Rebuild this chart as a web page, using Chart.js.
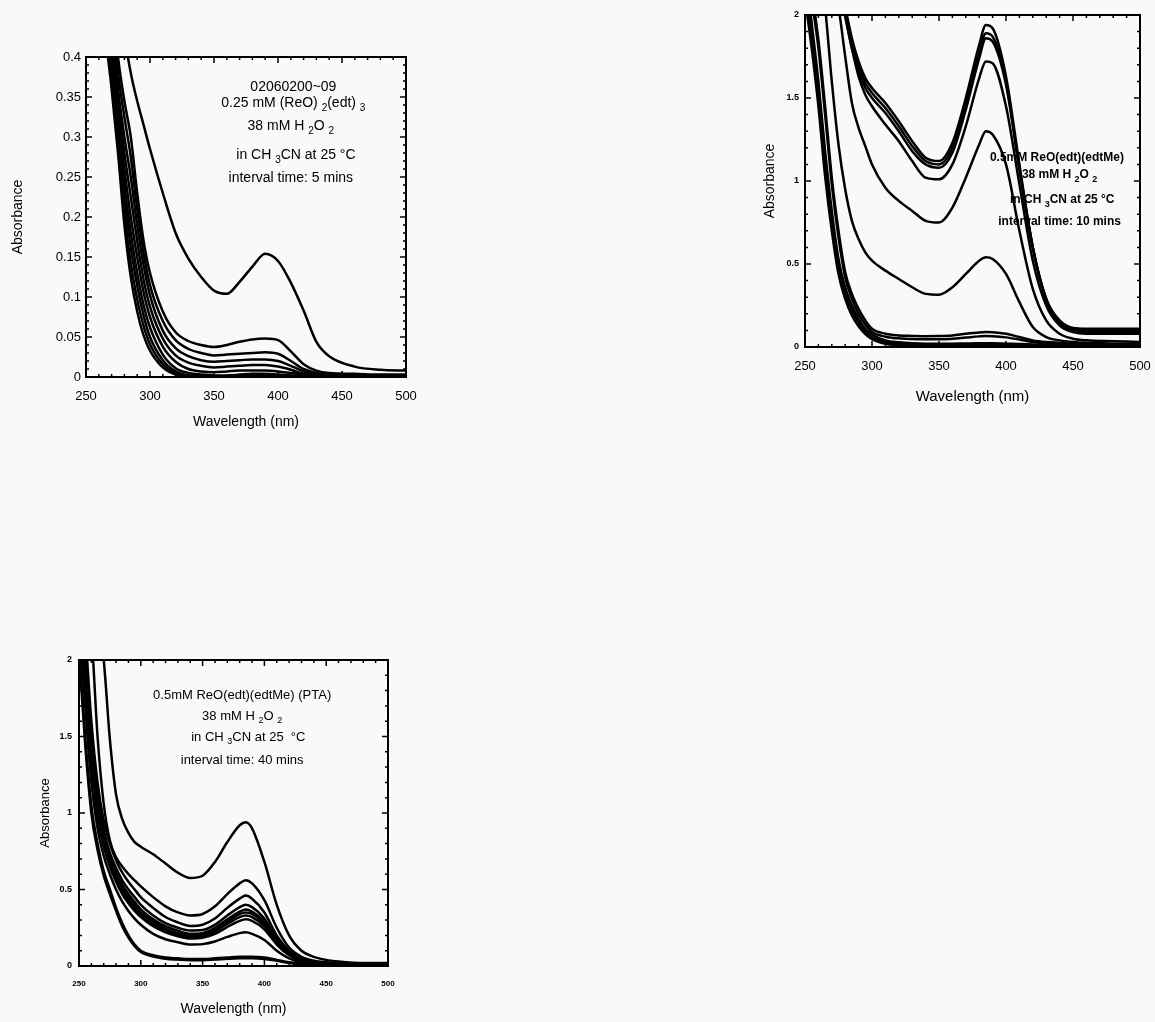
<!DOCTYPE html>
<html>
<head>
<meta charset="utf-8">
<script src="https://cdn.jsdelivr.net/npm/chart.js@4.4.1/dist/chart.umd.min.js"></script>
<style>
  body { margin: 0; background: #f9f9f9; overflow: hidden; }
  canvas { position: absolute; }
</style>
</head>
<body>
<canvas id="edt3" width="430" height="400" style="left:0;top:40px"></canvas>
<canvas id="edtMe" width="424" height="420" style="left:740px;top:0"></canvas>
<canvas id="pta" width="420" height="382" style="left:0;top:640px"></canvas>
<script>
// ---- panel 1: 0.25 mM (ReO)2(edt)3, 5 min scans ----
const wl1 = [255, 265, 270, 275, 280, 285, 290, 295, 300, 310, 320, 330, 340, 350, 360, 370, 380, 390, 400, 410, 420, 430, 440, 460, 480, 500];
const edt3Scan1 = [0.9, 0.7, 0.6, 0.52, 0.43, 0.38, 0.345, 0.315, 0.285, 0.23, 0.18, 0.148, 0.125, 0.108, 0.104, 0.119, 0.138, 0.154, 0.145, 0.118, 0.083, 0.044, 0.026, 0.013, 0.009, 0.008];
const edt3Scan2 = [1.2, 0.62, 0.48, 0.4, 0.345, 0.3, 0.23, 0.17, 0.13, 0.082, 0.056, 0.045, 0.04, 0.0375, 0.04, 0.044, 0.047, 0.048, 0.046, 0.032, 0.016, 0.008, 0.005, 0.004, 0.003, 0.003];
const edt3Scan3 = [1.2, 0.6, 0.46, 0.38, 0.325, 0.275, 0.21, 0.155, 0.115, 0.07, 0.046, 0.035, 0.03, 0.027, 0.028, 0.029, 0.03, 0.031, 0.029, 0.02, 0.01, 0.005, 0.003, 0.002, 0.002, 0.002];
const edt3Scan4 = [1.15, 0.58, 0.44, 0.36, 0.3, 0.25, 0.19, 0.14, 0.102, 0.058, 0.036, 0.026, 0.021, 0.019, 0.02, 0.021, 0.022, 0.022, 0.02, 0.014, 0.007, 0.003, 0.002, 0.001, 0.001, 0.001];
const edt3Scan5 = [1.1, 0.56, 0.43, 0.345, 0.28, 0.225, 0.17, 0.122, 0.088, 0.048, 0.027, 0.018, 0.014, 0.012, 0.013, 0.014, 0.015, 0.015, 0.013, 0.009, 0.004, 0.002, 0.001, 0.001, 0.001, 0.001];
const edt3Scan6 = [1.08, 0.54, 0.415, 0.33, 0.26, 0.2, 0.15, 0.106, 0.075, 0.038, 0.019, 0.01, 0.007, 0.006, 0.007, 0.008, 0.008, 0.008, 0.007, 0.005, 0.003, 0.002, 0.001, 0.001, 0.001, 0.001];
const edt3Scan7 = [1.05, 0.52, 0.4, 0.315, 0.24, 0.18, 0.13, 0.09, 0.062, 0.028, 0.011, 0.005, 0.003, 0.002, 0.002, 0.003, 0.004, 0.004, 0.003, 0.002, 0.001, 0.001, 0, 0, 0, 0];
const edt3Scan8 = [1.0, 0.5, 0.39, 0.305, 0.225, 0.162, 0.114, 0.077, 0.05, 0.021, 0.007, 0.002, 0.001, 0.001, 0.001, 0.002, 0.002, 0.002, 0.002, 0.001, 0, 0, 0, 0, 0, 0];
const edt3Scan9 = [0.98, 0.48, 0.375, 0.29, 0.205, 0.142, 0.097, 0.064, 0.041, 0.016, 0.005, 0.001, 0, 0, 0, 0.001, 0.001, 0.001, 0.001, 0, 0, 0, 0, 0, 0, 0];
const edt3Scan10 = [0.95, 0.45, 0.36, 0.28, 0.19, 0.125, 0.082, 0.052, 0.033, 0.012, 0.003, 0, 0, 0, 0, 0, 0, 0, 0, 0, 0, 0, 0, 0, 0, 0];
const edt3Notes = ['02060200~09', '0.25 mM (ReO) _2(edt) _3', '38 mM H _2O _2', 'in CH _3CN at 25 °C', 'interval time: 5 mins'];
const edt3NoteX = [412, 412, 410, 414, 410];
const edt3NoteY = [0.3625, 0.3425, 0.314, 0.2775, 0.249];

// ---- panel 2: 0.5 mM ReO(edt)(edtMe), 10 min scans ----
const wl2 = [250, 255, 260, 265, 270, 275, 280, 285, 290, 295, 300, 310, 320, 330, 340, 350, 360, 370, 380, 385, 390, 400, 410, 420, 430, 440, 450, 460, 480, 500];
const edtMeScan1 = [3.5, 3.2, 3.0, 2.8, 2.5, 2.25, 2.05, 1.86, 1.72, 1.62, 1.56, 1.47, 1.36, 1.24, 1.14, 1.12, 1.23, 1.5, 1.82, 1.94, 1.92, 1.63, 1.1, 0.6, 0.29, 0.16, 0.115, 0.11, 0.11, 0.11];
const edtMeScan2 = [3.45, 3.15, 2.95, 2.75, 2.45, 2.2, 2.02, 1.83, 1.69, 1.59, 1.53, 1.44, 1.33, 1.21, 1.12, 1.1, 1.2, 1.46, 1.77, 1.89, 1.87, 1.6, 1.08, 0.6, 0.29, 0.15, 0.105, 0.1, 0.1, 0.1];
const edtMeScan3 = [3.4, 3.1, 2.9, 2.7, 2.4, 2.16, 1.99, 1.8, 1.66, 1.56, 1.5, 1.41, 1.3, 1.18, 1.1, 1.08, 1.17, 1.43, 1.74, 1.86, 1.84, 1.58, 1.07, 0.6, 0.28, 0.14, 0.095, 0.09, 0.09, 0.09];
const edtMeScan4 = [3.4, 3.1, 2.9, 2.7, 2.45, 2.2, 2.0, 1.8, 1.63, 1.52, 1.45, 1.34, 1.24, 1.12, 1.02, 1.01, 1.1, 1.33, 1.62, 1.72, 1.71, 1.45, 0.98, 0.52, 0.25, 0.13, 0.09, 0.08, 0.08, 0.08];
const edtMeScan5 = [3.2, 3.0, 2.75, 2.5, 2.25, 2.05, 1.75, 1.47, 1.32, 1.21, 1.1, 0.96, 0.88, 0.82, 0.76, 0.75, 0.84, 1.02, 1.22, 1.3, 1.28, 1.1, 0.7, 0.35, 0.16, 0.08, 0.05, 0.04, 0.035, 0.03];
const edtMeScan6 = [3.0, 2.7, 2.4, 2.05, 1.6, 1.22, 0.95, 0.76, 0.65, 0.57, 0.52, 0.46, 0.41, 0.36, 0.32, 0.315, 0.36, 0.44, 0.52, 0.54, 0.53, 0.44, 0.27, 0.12, 0.06, 0.04, 0.03, 0.025, 0.02, 0.02];
const edtMeScan7 = [2.5, 2.15, 1.85, 1.45, 1.02, 0.7, 0.45, 0.32, 0.23, 0.16, 0.11, 0.08, 0.07, 0.067, 0.065, 0.066, 0.07, 0.08, 0.088, 0.09, 0.089, 0.08, 0.06, 0.04, 0.03, 0.025, 0.02, 0.018, 0.015, 0.015];
const edtMeScan8 = [2.45, 2.1, 1.8, 1.4, 0.98, 0.66, 0.42, 0.29, 0.2, 0.135, 0.09, 0.062, 0.052, 0.048, 0.046, 0.047, 0.05, 0.057, 0.064, 0.066, 0.065, 0.058, 0.045, 0.03, 0.022, 0.018, 0.015, 0.013, 0.012, 0.012];
const edtMeScan9 = [2.3, 1.95, 1.6, 1.18, 0.82, 0.53, 0.36, 0.25, 0.17, 0.11, 0.075, 0.04, 0.028, 0.022, 0.02, 0.02, 0.02, 0.021, 0.022, 0.022, 0.022, 0.02, 0.018, 0.015, 0.012, 0.01, 0.01, 0.01, 0.01, 0.01];
const edtMeScan10 = [2.2, 1.88, 1.52, 1.1, 0.75, 0.48, 0.32, 0.22, 0.145, 0.092, 0.06, 0.03, 0.019, 0.014, 0.012, 0.012, 0.012, 0.013, 0.014, 0.014, 0.014, 0.013, 0.011, 0.009, 0.007, 0.006, 0.006, 0.006, 0.006, 0.006];
const edtMeScan11 = [2.1, 1.8, 1.45, 1.03, 0.7, 0.44, 0.29, 0.19, 0.125, 0.078, 0.048, 0.02, 0.01, 0.006, 0.005, 0.005, 0.005, 0.006, 0.006, 0.006, 0.006, 0.005, 0.004, 0.003, 0.003, 0.003, 0.003, 0.003, 0.003, 0.003];
const edtMeNotes = ['0.5mM ReO(edt)(edtMe)', '38 mM H _2O _2', 'in CH _3CN at 25 °C', 'interval time: 10 mins'];
const edtMeNoteX = [438, 440, 442, 440];
const edtMeNoteY = [1.139, 1.036, 0.886, 0.753];

// ---- panel 3: 0.5 mM ReO(edt)(edtMe) (PTA), 40 min scans ----
const wl3 = [250, 255, 260, 265, 270, 275, 280, 285, 290, 295, 300, 310, 320, 330, 340, 350, 360, 370, 380, 385, 390, 400, 410, 420, 430, 440, 450, 460, 480, 500];
const ptaScan1 = [3.5, 3.0, 2.6, 2.3, 2.0, 1.48, 1.12, 0.96, 0.87, 0.81, 0.78, 0.73, 0.67, 0.61, 0.575, 0.59, 0.68, 0.81, 0.92, 0.94, 0.9, 0.68, 0.4, 0.2, 0.1, 0.06, 0.04, 0.03, 0.02, 0.02];
const ptaScan2 = [3.2, 2.7, 2.2, 1.5, 1.06, 0.82, 0.71, 0.65, 0.6, 0.56, 0.52, 0.45, 0.39, 0.35, 0.33, 0.34, 0.39, 0.47, 0.54, 0.56, 0.54, 0.43, 0.25, 0.12, 0.06, 0.035, 0.025, 0.02, 0.015, 0.015];
const ptaScan3 = [2.8, 2.2, 1.6, 1.2, 0.95, 0.8, 0.69, 0.61, 0.55, 0.5, 0.45, 0.38, 0.32, 0.285, 0.262, 0.27, 0.31, 0.38, 0.44, 0.46, 0.44, 0.35, 0.2, 0.1, 0.05, 0.03, 0.02, 0.015, 0.01, 0.01];
const ptaScan4 = [2.7, 2.1, 1.5, 1.12, 0.89, 0.74, 0.64, 0.56, 0.5, 0.45, 0.4, 0.33, 0.28, 0.25, 0.232, 0.235, 0.27, 0.33, 0.385, 0.4, 0.385, 0.31, 0.18, 0.09, 0.045, 0.025, 0.018, 0.014, 0.01, 0.01];
const ptaScan5 = [2.6, 2.0, 1.44, 1.07, 0.85, 0.71, 0.61, 0.53, 0.47, 0.42, 0.37, 0.305, 0.26, 0.23, 0.21, 0.215, 0.25, 0.305, 0.355, 0.37, 0.355, 0.29, 0.17, 0.085, 0.04, 0.022, 0.016, 0.012, 0.01, 0.01];
const ptaScan6 = [2.55, 1.95, 1.4, 1.04, 0.82, 0.69, 0.59, 0.51, 0.45, 0.4, 0.35, 0.29, 0.245, 0.215, 0.2, 0.205, 0.235, 0.29, 0.34, 0.35, 0.34, 0.275, 0.16, 0.08, 0.038, 0.02, 0.015, 0.011, 0.01, 0.01];
const ptaScan7 = [2.5, 1.9, 1.36, 1.01, 0.8, 0.67, 0.57, 0.49, 0.43, 0.38, 0.335, 0.275, 0.232, 0.205, 0.19, 0.195, 0.225, 0.275, 0.32, 0.33, 0.32, 0.26, 0.15, 0.075, 0.035, 0.018, 0.013, 0.01, 0.01, 0.01];
const ptaScan8 = [2.45, 1.85, 1.32, 0.98, 0.78, 0.65, 0.55, 0.47, 0.41, 0.36, 0.32, 0.26, 0.22, 0.195, 0.18, 0.185, 0.21, 0.255, 0.295, 0.305, 0.295, 0.24, 0.14, 0.07, 0.032, 0.017, 0.012, 0.01, 0.01, 0.01];
const ptaScan9 = [2.3, 1.7, 1.2, 0.9, 0.72, 0.6, 0.5, 0.42, 0.36, 0.31, 0.27, 0.21, 0.175, 0.155, 0.14, 0.143, 0.16, 0.19, 0.215, 0.22, 0.21, 0.17, 0.1, 0.05, 0.025, 0.015, 0.01, 0.01, 0.01, 0.01];
const ptaScan10 = [2.1, 1.5, 1.05, 0.8, 0.62, 0.5, 0.38, 0.28, 0.2, 0.14, 0.1, 0.07, 0.055, 0.05, 0.045, 0.045, 0.05, 0.055, 0.06, 0.06, 0.06, 0.055, 0.04, 0.025, 0.015, 0.01, 0.01, 0.01, 0.01, 0.01];
const ptaScan11 = [2.05, 1.45, 1.0, 0.76, 0.59, 0.47, 0.36, 0.26, 0.185, 0.13, 0.092, 0.062, 0.048, 0.042, 0.038, 0.038, 0.042, 0.047, 0.05, 0.05, 0.05, 0.046, 0.034, 0.02, 0.012, 0.008, 0.008, 0.008, 0.008, 0.008];
const ptaNotes = ['0.5mM ReO(edt)(edtMe) (PTA)', '38 mM H _2O _2', 'in CH _3CN at 25  °C', 'interval time: 40 mins'];
const ptaNoteX = [382, 382, 387, 382];
const ptaNoteY = [1.771, 1.634, 1.497, 1.346];

const FAMILY = 'Liberation Sans, Arial, Helvetica, sans-serif';

// text with "_x" subscripts, centred on (cx, cy)
function drawRich(ctx, text, cx, cy, size, weight) {
  const parts = [];
  for (let i = 0; i < text.length; i++) {
    if (text[i] === '_') { parts.push({ t: text[i + 1], sub: true }); i++; continue; }
    if (!parts.length || parts[parts.length - 1].sub) parts.push({ t: '', sub: false });
    parts[parts.length - 1].t += text[i];
  }
  const big = `${weight} ${size}px ${FAMILY}`;
  const small = `${weight} ${Math.round(size * 0.72)}px ${FAMILY}`;
  let total = 0;
  parts.forEach(p => { ctx.font = p.sub ? small : big; p.w = ctx.measureText(p.t).width; total += p.w; });
  let x = cx - total / 2;
  ctx.textAlign = 'left';
  ctx.textBaseline = 'middle';
  parts.forEach(p => {
    ctx.font = p.sub ? small : big;
    ctx.fillText(p.t, x, p.sub ? cy + size * 0.38 : cy);
    x += p.w;
  });
}

const notesPlugin = {
  id: 'notes',
  beforeDatasetsDraw(chart, args, opts) {
    const { ctx, scales: { x, y } } = chart;
    ctx.save();
    ctx.fillStyle = '#000';
    opts.lines.forEach((t, i) => {
      drawRich(ctx, t, x.getPixelForValue(opts.xs[i]), y.getPixelForValue(opts.ys[i]), opts.size, opts.weight);
    });
    ctx.restore();
  }
};

// closed frame with inward ticks on all four sides
const frameTicks = {
  id: 'frameTicks',
  afterDatasetsDraw(chart, args, opts) {
    const { ctx, chartArea: a, scales: { x, y } } = chart;
    const isMajor = (v, step) => Math.abs(v / step - Math.round(v / step)) < 1e-6;
    ctx.save();
    ctx.strokeStyle = '#000';
    ctx.lineWidth = 1.5;
    ctx.beginPath();
    for (let v = x.min; v <= x.max + 1e-9; v += opts.xMinor) {
      const px = x.getPixelForValue(v), len = isMajor(v, opts.xMajor) ? 6 : 3;
      ctx.moveTo(px, a.bottom); ctx.lineTo(px, a.bottom - len);
      ctx.moveTo(px, a.top); ctx.lineTo(px, a.top + len);
    }
    const n = Math.round((y.max - y.min) / opts.yMinor);
    for (let k = 0; k <= n; k++) {
      const v = y.min + k * opts.yMinor;
      const py = y.getPixelForValue(v), len = isMajor(v, opts.yMajor) ? 6 : 3;
      ctx.moveTo(a.left, py); ctx.lineTo(a.left + len, py);
      ctx.moveTo(a.right, py); ctx.lineTo(a.right - len, py);
    }
    ctx.stroke();
    ctx.lineWidth = 2;
    ctx.strokeRect(a.left, a.top, a.right - a.left, a.bottom - a.top);
    ctx.restore();
  }
};

function spectrumChart(id, wl, scans, c) {
  return new Chart(document.getElementById(id), {
    type: 'line',
    data: {
      datasets: scans.map(s => ({
        data: s.map((v, i) => ({ x: wl[i], y: v })),
        borderColor: '#000',
        borderWidth: c.lineWidth,
        pointRadius: 0,
        fill: false,
        cubicInterpolationMode: 'monotone'
      }))
    },
    options: {
      responsive: false,
      animation: false,
      layout: { padding: c.pad },
      plugins: {
        legend: { display: false },
        tooltip: { enabled: false },
        notes: c.notes,
        frameTicks: { xMajor: 50, xMinor: 10, yMajor: c.yStep, yMinor: c.yMinor }
      },
      scales: {
        x: {
          type: 'linear', min: 250, max: 500,
          afterFit: s => { s.height = c.xHeight; },
          grid: { display: false, drawTicks: false },
          border: { display: false },
          ticks: { stepSize: 50, color: '#000', padding: c.xTickPad, maxRotation: 0, font: c.xTickFont },
          title: { display: true, text: 'Wavelength (nm)', color: '#000', font: c.xTitleFont,
                   padding: { top: c.xTitlePad, bottom: c.xTitlePad } }
        },
        y: {
          min: 0, max: c.yMax,
          afterFit: s => { s.width = c.yWidth; },
          grid: { display: false, drawTicks: false },
          border: { display: false },
          ticks: { stepSize: c.yStep, color: '#000', padding: c.yTickPad, font: c.yTickFont,
                   callback: v => String(Math.round(v * 1000) / 1000) },
          title: { display: true, text: 'Absorbance', color: '#000', font: c.yTitleFont,
                   padding: { top: c.yTitlePad, bottom: c.yTitlePad } }
        }
      }
    },
    plugins: [notesPlugin, frameTicks]
  });
}

spectrumChart('edt3', wl1,
  [edt3Scan1, edt3Scan2, edt3Scan3, edt3Scan4, edt3Scan5, edt3Scan6, edt3Scan7, edt3Scan8, edt3Scan9, edt3Scan10], {
  lineWidth: 2.5,
  pad: { left: 0, top: 17, right: 24, bottom: 0 },
  yWidth: 86, xHeight: 63, yMax: 0.4, yStep: 0.05, yMinor: 0.01,
  xTickPad: 12, xTickFont: { family: FAMILY, size: 13 },
  yTickPad: 5, yTickFont: { family: FAMILY, size: 13 },
  xTitleFont: { family: FAMILY, size: 14 }, xTitlePad: 9,
  yTitleFont: { family: FAMILY, size: 14 }, yTitlePad: 10,
  notes: { lines: edt3Notes, xs: edt3NoteX, ys: edt3NoteY, size: 14, weight: 'normal' }
});

spectrumChart('edtMe', wl2,
  [edtMeScan1, edtMeScan2, edtMeScan3, edtMeScan4, edtMeScan5, edtMeScan6, edtMeScan7, edtMeScan8, edtMeScan9, edtMeScan10, edtMeScan11], {
  lineWidth: 2.5,
  pad: { left: 0, top: 15, right: 24, bottom: 0 },
  yWidth: 65, xHeight: 73, yMax: 2, yStep: 0.5, yMinor: 0.1,
  xTickPad: 12, xTickFont: { family: FAMILY, size: 13 },
  yTickPad: 6, yTickFont: { family: FAMILY, size: 9, weight: 'bold' },
  xTitleFont: { family: FAMILY, size: 15 }, xTitlePad: 14,
  yTitleFont: { family: FAMILY, size: 14 }, yTitlePad: 22,
  notes: { lines: edtMeNotes, xs: edtMeNoteX, ys: edtMeNoteY, size: 12, weight: 'bold' }
});

spectrumChart('pta', wl3,
  [ptaScan1, ptaScan2, ptaScan3, ptaScan4, ptaScan5, ptaScan6, ptaScan7, ptaScan8, ptaScan9, ptaScan10, ptaScan11], {
  lineWidth: 2.5,
  pad: { left: 0, top: 20, right: 32, bottom: 0 },
  yWidth: 79, xHeight: 56, yMax: 2, yStep: 0.5, yMinor: 0.1,
  xTickPad: 13, xTickFont: { family: FAMILY, size: 8, weight: 'bold' },
  yTickPad: 7, yTickFont: { family: FAMILY, size: 9, weight: 'bold' },
  xTitleFont: { family: FAMILY, size: 14 }, xTitlePad: 4,
  yTitleFont: { family: FAMILY, size: 13 }, yTitlePad: 38,
  notes: { lines: ptaNotes, xs: ptaNoteX, ys: ptaNoteY, size: 13, weight: 'normal' }
});
</script>
</body>
</html>
